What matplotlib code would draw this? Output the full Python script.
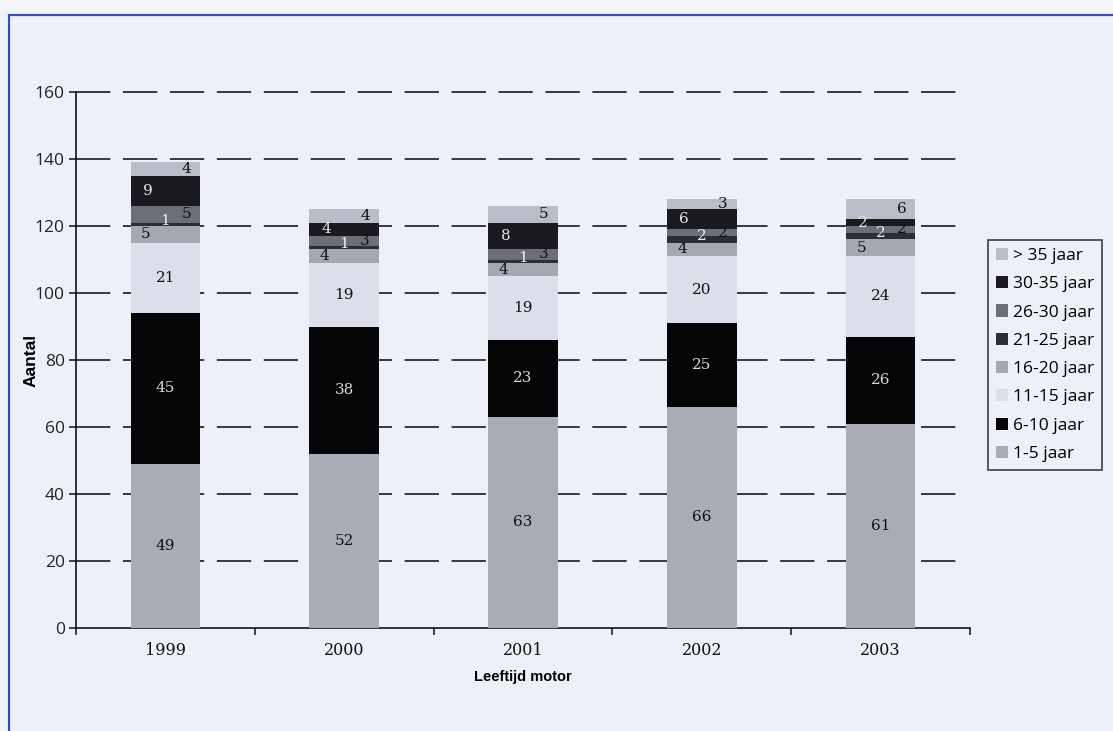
import matplotlib
matplotlib.use("Agg")
import matplotlib.pyplot as plt
from matplotlib.patches import Rectangle, Patch
import numpy as np

years = ["1999", "2000", "2001", "2002", "2003"]
series_names = ["1-5 jaar", "6-10 jaar", "11-15 jaar", "16-20 jaar",
                "21-25 jaar", "26-30 jaar", "30-35 jaar", "> 35 jaar"]
v_1_5 = [49, 52, 63, 66, 61]
v_6_10 = [45, 38, 23, 25, 26]
v_11_15 = [21, 19, 19, 20, 24]
v_16_20 = [5, 4, 4, 4, 5]
v_21_25 = [1, 1, 1, 2, 2]
v_26_30 = [5, 3, 3, 2, 2]
v_30_35 = [9, 4, 8, 6, 2]
v_gt35 = [4, 4, 5, 3, 6]
values = [v_1_5, v_6_10, v_11_15, v_16_20, v_21_25, v_26_30, v_30_35, v_gt35]

colors = ["#a9abb5", "#050507", "#dcdeea", "#a5a7b1",
          "#2c2e36", "#6d6f78", "#1a1a20", "#babcc7"]
label_colors = ["#111111", "#d8d8d8", "#111111", "#111111",
                "#f0f0f0", "#111111", "#e8e8e8", "#111111"]
# horizontal placement of the value label within the bar (fraction of bar width)
label_xoff = [0, 0, 0, -0.28, 0, 0.3, -0.25, 0.3]
label_yoff = [0, 0, 0, 0, 1.0, 0, 0, 0]

fig = plt.figure(figsize=(11.13, 7.31), dpi=100)
fig.patch.set_facecolor("#f2f4f9")
frame = Rectangle((9 / 1113, -0.05), 1.2, 1 - 15 / 731 + 0.05,
                  transform=fig.transFigure, facecolor="#edf0f7",
                  edgecolor="#3b4fae", linewidth=1.6, zorder=-10)
fig.patches.append(frame)

ax = fig.add_axes([76 / 1113, 1 - 628 / 731, (970 - 76) / 1113, (628 - 92) / 731])
ax.set_facecolor("none")

x = np.arange(len(years))
width = 0.39
bottom = np.zeros(len(years))
for i, (vals, c) in enumerate(zip(values, colors)):
    vals = np.array(vals, dtype=float)
    ax.bar(x, vals, width, bottom=bottom, color=c, zorder=3, linewidth=0)
    for j in range(len(years)):
        yc = bottom[j] + vals[j] / 2 + label_yoff[i]
        ax.text(x[j] + label_xoff[i] * width, yc, str(int(vals[j])),
                ha="center", va="center", fontsize=11, family="DejaVu Serif",
                color=label_colors[i], zorder=4)
    bottom += vals

ax.set_xlim(-0.5, len(years) - 0.5)
ax.set_ylim(0, 160)
ax.set_yticks(np.arange(0, 161, 20))
for yv in np.arange(20, 161, 20):
    ax.plot([-0.5, 4.47], [yv, yv], color="#2a2a30", lw=1.3,
            linestyle=(0, (19, 7)), zorder=2, clip_on=False)

ax.spines["top"].set_visible(False)
ax.spines["right"].set_visible(False)
ax.spines["left"].set_color("#111111")
ax.spines["bottom"].set_color("#111111")
ax.spines["left"].set_linewidth(1.2)
ax.spines["bottom"].set_linewidth(1.2)

ax.set_xticks(x)
ax.set_xticklabels(years, family="DejaVu Serif", fontsize=11.5, color="#111111")
ax.tick_params(axis="x", which="major", length=0, pad=10)
ax.set_xticks(np.arange(-0.5, len(years), 1.0), minor=True)
ax.tick_params(axis="x", which="minor", length=5, width=1.1, direction="out", color="#111111")
ax.tick_params(axis="y", length=5, width=1.1, direction="out", labelsize=12.5,
               color="#111111", labelcolor="#222222", pad=3)
for lab in ax.get_yticklabels():
    lab.set_family("Open Sans")

ax.set_ylabel("Aantal", family="Liberation Sans", fontweight="bold", fontsize=12.5)
ax.yaxis.set_label_coords(-0.042, 0.5)
ax.set_xlabel("Leeftijd motor", family="Liberation Sans", fontweight="bold", fontsize=10.5, labelpad=8)

handles = [Patch(facecolor=c, edgecolor="none") for c in colors][::-1]
labels = series_names[::-1]
leg = fig.legend(handles, labels, loc="upper left",
                 bbox_to_anchor=(988 / 1113, 1 - 240 / 731),
                 prop={"family": "Open Sans", "size": 12.5},
                 frameon=True, fancybox=False, edgecolor="#111111",
                 handlelength=0.7, handleheight=0.7, handletextpad=0.3,
                 labelspacing=0.7, borderpad=0.45, borderaxespad=0)
leg.get_frame().set_facecolor("#edf0f7")
leg.get_frame().set_linewidth(1.2)

fig.savefig("out.png", dpi=100, facecolor=fig.get_facecolor())
